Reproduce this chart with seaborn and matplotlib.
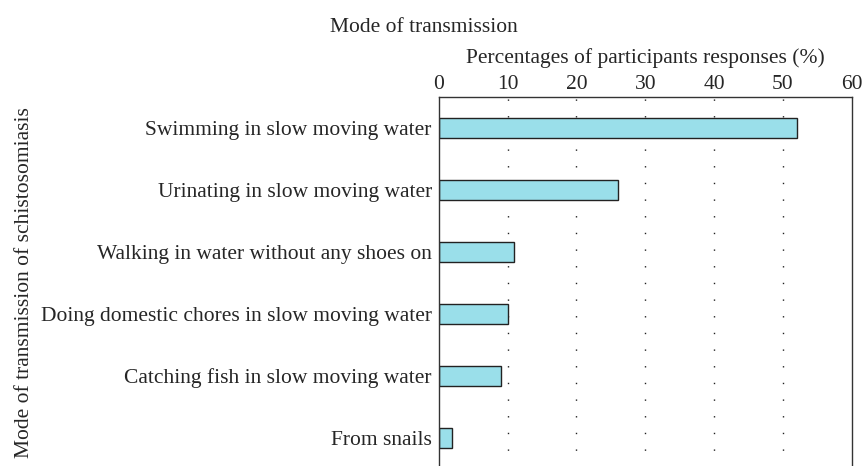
import pandas as pd
import matplotlib.pyplot as plt
import seaborn as sns

# Dados do gráfico
modes = ['Swimming in slow moving water',
         'Urinating in slow moving water',
         'Walking in water without any shoes on',
         'Doing domestic chores in slow moving water',
         'Catching fish in slow moving water',
         'From snails']
percent = [52.0, 26.0, 11.0, 10.0, 9.1, 2.0]
xticks = [0, 10, 20, 30, 40, 50, 60]

dt = pd.DataFrame({'Mode': modes, 'Percent': percent})

sns.set_style('white')
plt.rcParams['font.family'] = ['Liberation Serif', 'DejaVu Serif']
fs = 15.5

fig = plt.figure(figsize=(8.65, 4.66), dpi=100)
ax = fig.add_axes([0.5072, -0.0065, 0.4775, 0.7982])

sns.barplot(data=dt, x='Percent', y='Mode', color='#9adfea', width=0.31,
            edgecolor='#222222', linewidth=1.0, saturation=1, ax=ax)

# Formatação
ax.set_xlim(0, 60)
ax.set_ylim(5.5, -0.5)
ax.set_xticks(xticks)
ax.xaxis.tick_top()
ax.xaxis.set_label_position('top')
ax.tick_params(axis='x', length=0, pad=2, labelsize=fs)
ax.tick_params(axis='y', length=0, pad=5, labelsize=fs)
ax.set_xlabel('Percentages of participants responses (%)', fontsize=fs, labelpad=9)
ax.set_ylabel('Mode of transmission of schistosomiasis', fontsize=fs)
ax.yaxis.set_label_coords(-0.98, 0.5)
for x in xticks[1:-1]:
    ax.axvline(x, color='#222222', linestyle=(0, (1, 11)), linewidth=1.0, zorder=0)
for s in ['left', 'top', 'right', 'bottom']:
    ax.spines[s].set_color('#333333')
    ax.spines[s].set_linewidth(1.0)

fig.text(424 / 865, 1 - 32 / 466, 'Mode of transmission', ha='center', va='baseline', fontsize=fs)

plt.savefig('out.png', dpi=100)
plt.close()
